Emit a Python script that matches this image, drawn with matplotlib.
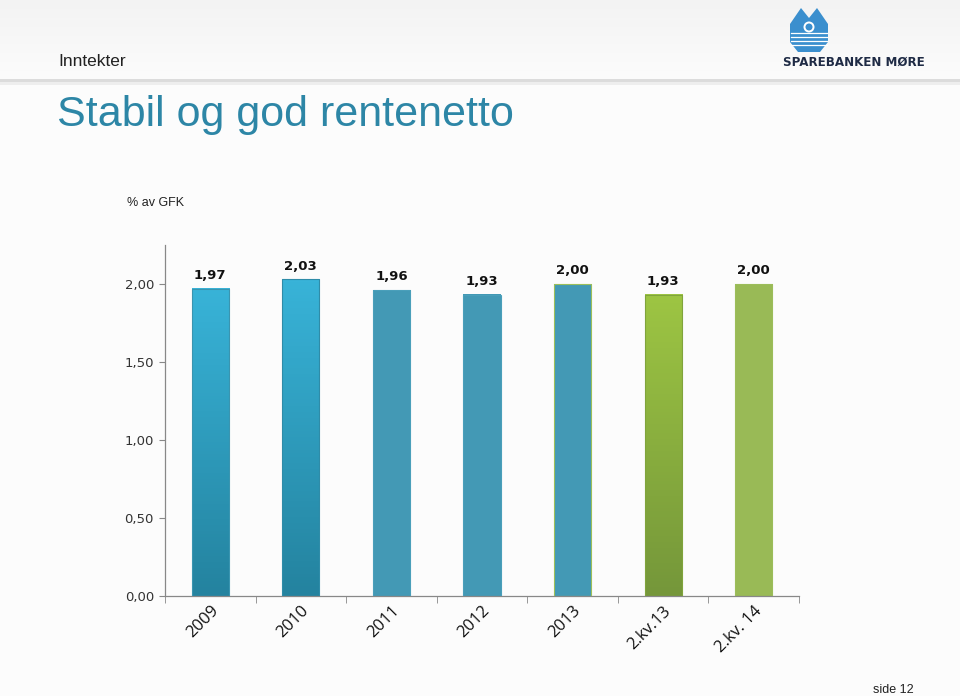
import matplotlib.pyplot as plt
import numpy as np
from matplotlib.patches import Polygon, Rectangle
import matplotlib.colors as mcolors
import matplotlib.transforms as mtransforms

categories = ['2009', '2010', '2011', '2012', '2013', '2.kv.13', '2.kv. 14']
values = [1.97, 2.03, 1.96, 1.93, 2.00, 1.93, 2.00]
labels = ['1,97', '2,03', '1,96', '1,93', '2,00', '1,93', '2,00']
yticks = [0.0, 0.5, 1.0, 1.5, 2.0]
ytick_labels = ['0,00', '0,50', '1,00', '1,50', '2,00']

# fill per bar: (top colour, bottom colour), flat when equal
fills = [('#38b3d8', '#24839f'), ('#38b3d8', '#24839f'),
         ('#4399b5', '#4399b5'), ('#4399b5', '#4399b5'), ('#4399b5', '#4399b5'),
         ('#9dc543', '#75973a'), ('#99ba56', '#99ba56')]
edges = ['#3a95b0', '#2f8ca8', '#4a9fba', '#4a9fba', '#9cbf5a', '#80a43c', '#9cbd5a']

fig = plt.figure(figsize=(9.6, 6.96), dpi=100)
fig.patch.set_facecolor('#fcfcfc')

# header band
bg = fig.add_axes([0, 0, 1, 1])
bg.set_xlim(0, 960)
bg.set_ylim(696, 0)
bg.axis('off')
grad = np.linspace(0, 1, 80).reshape(-1, 1)
hdr = mcolors.LinearSegmentedColormap.from_list('h', ['#f3f3f3', '#fcfcfc'])
bg.imshow(grad, extent=[0, 960, 80, 0], cmap=hdr, aspect='auto')
bg.add_patch(Rectangle((0, 79), 960, 3, color='#dcdcdc', lw=0))
bg.add_patch(Rectangle((0, 82), 960, 3, color='#eeeeee', lw=0))

bg.text(58, 62, 'Inntekter', fontsize=12.5, color='#222222', va='center', ha='left',
        family='Liberation Sans')
bg.text(57, 115, 'Stabil og god rentenetto', fontsize=31, color='#2d86a6',
        va='center', ha='left', family='Liberation Sans')
bg.text(127, 203, '% av GFK', fontsize=9, color='#222222', va='center', ha='left',
        family='Liberation Sans')
bg.text(873, 690, 'side 12', fontsize=9, color='#222222', va='center', ha='left',
        family='Liberation Sans')

# logo
blue = '#3b8fce'
bg.add_patch(Polygon([(790, 42), (790, 24), (801, 8), (809, 18), (817, 8), (828, 24),
                      (828, 42), (820, 52), (798, 52)], closed=True, color=blue, lw=0))
for yy in [33, 37, 41, 45]:
    bg.plot([791, 827], [yy, yy], color='white', lw=0.9)
bg.add_patch(plt.Circle((809, 27), 5.5, color='white', lw=0))
bg.add_patch(plt.Circle((809, 27), 3.5, color=blue, lw=0))
bg.text(854, 62, 'SPAREBANKEN MØRE', fontsize=8.6, fontweight='bold', color='#1f2b45',
        va='center', ha='center', family='DejaVu Sans Condensed')

# chart
ax = fig.add_axes([165 / 960, 100 / 696, 634 / 960, 351 / 696])
ax.set_facecolor('none')
x = np.arange(len(categories))
w = 0.41
bars = ax.bar(x, values, width=w, color='none', edgecolor='none', zorder=2)
for b, (top, bot), ec in zip(bars, fills, edges):
    x0 = b.get_x()
    h = b.get_height()
    cm = mcolors.LinearSegmentedColormap.from_list('g', [bot, top])
    ax.imshow(np.linspace(1, 0, 100).reshape(-1, 1), extent=[x0, x0 + w, 0, h],
              cmap=cm, aspect='auto', zorder=2, vmin=0, vmax=1)
    ax.add_patch(Rectangle((x0, 0), w, h, fill=False, edgecolor=ec, lw=0.8, zorder=3))

for xi, v, lab in zip(x, values, labels):
    ax.text(xi, v + 0.085, lab, ha='center', va='center', fontsize=9.5,
            fontweight='bold', color='#111111', family='DejaVu Sans')

ax.set_xlim(-0.5, len(categories) - 0.5)
ax.set_ylim(0, 2.25)
ax.set_yticks(yticks)
ax.set_yticklabels(ytick_labels, fontsize=9.5, color='#333333', family='DejaVu Sans')
ax.set_xticks(x)
ax.set_xticklabels(categories, rotation=45, ha='right', va='top', fontsize=12,
                   color='#111111', family='Open Sans', rotation_mode='anchor')
shift = mtransforms.ScaledTranslation(25 / 100, 0, fig.dpi_scale_trans)
for t in ax.get_xticklabels():
    t.set_transform(t.get_transform() + shift)
ax.set_xticks(np.arange(-0.5, len(categories)), minor=True)
ax.tick_params(axis='x', which='major', length=0, pad=5)
ax.tick_params(axis='x', which='minor', length=5, color='#888888')
ax.tick_params(axis='y', length=4, color='#888888', pad=4)
for s in ['top', 'right']:
    ax.spines[s].set_visible(False)
for s in ['left', 'bottom']:
    ax.spines[s].set_color('#888888')
    ax.spines[s].set_linewidth(0.9)

fig.savefig('out.png', dpi=100, facecolor=fig.get_facecolor())
